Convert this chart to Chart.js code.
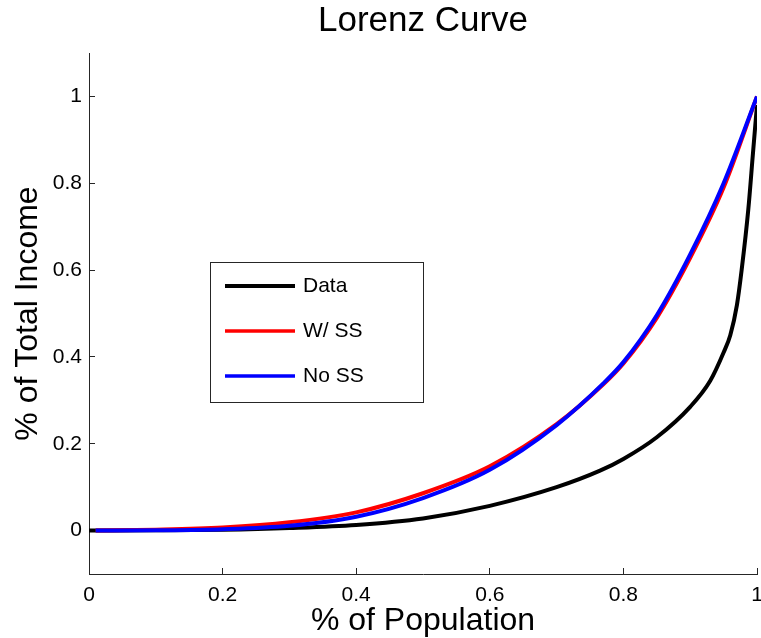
<!DOCTYPE html>
<html>
<head>
<meta charset="utf-8">
<script src="https://cdn.jsdelivr.net/npm/chart.js@4"></script>
<style>
  html, body { margin: 0; padding: 0; background: #fff; }
  #wrap { width: 761px; height: 638px; }
</style>
</head>
<body>
<div id="wrap"><canvas id="chart" width="761" height="638"></canvas></div>
<script>
// ── Data ──
const dataX = [0, 0.1, 0.2, 0.3, 0.4, 0.5, 0.6, 0.7, 0.765, 0.8, 0.85, 0.9, 0.93, 0.95, 0.96, 0.97, 0.977, 0.987, 0.994, 1];
const dataY = [0, 0.0005, 0.002, 0.006, 0.013, 0.028, 0.057, 0.1, 0.138, 0.165, 0.215, 0.285, 0.345, 0.41, 0.45, 0.52, 0.6, 0.74, 0.87, 0.98];

const ssX = [0.01, 0.1, 0.2, 0.3, 0.4, 0.5, 0.6, 0.7, 0.77, 0.8, 0.85, 0.9, 0.95, 1];
const withSSY = [0, 0.002, 0.007, 0.019, 0.042, 0.086, 0.148, 0.245, 0.337, 0.385, 0.49, 0.628, 0.79, 1];
const noSSY   = [0, 0.0005, 0.003, 0.011, 0.032, 0.075, 0.14, 0.243, 0.339, 0.388, 0.496, 0.636, 0.8, 1];

const xTicks = [0, 0.2, 0.4, 0.6, 0.8, 1];
const yTicks = [0, 0.2, 0.4, 0.6, 0.8, 1];

const FONT = 'Liberation Sans, Arial, Helvetica, sans-serif';
const AXIS = '#262626';

function pts(xs, ys) { return xs.map((x, i) => ({ x, y: ys[i] })); }

// ── Legend box inside the axes ──
const boxLegend = {
  id: 'boxLegend',
  afterDraw(chart) {
    const ctx = chart.ctx;
    const L = 210, T = 262, W = 213, H = 140;
    ctx.save();
    ctx.fillStyle = '#fff';
    ctx.fillRect(L, T, W, H);
    ctx.strokeStyle = AXIS;
    ctx.lineWidth = 1;
    ctx.strokeRect(L + 0.5, T + 0.5, W, H);
    ctx.font = '21px ' + FONT;
    ctx.textBaseline = 'middle';
    chart.data.datasets.forEach((ds, i) => {
      const y = T + 24 + i * 45;
      ctx.strokeStyle = ds.borderColor;
      ctx.lineWidth = i === 0 ? 4 : 3.5;
      ctx.beginPath();
      ctx.moveTo(225, y);
      ctx.lineTo(295, y);
      ctx.stroke();
      ctx.fillStyle = '#000';
      ctx.fillText(ds.label, 303, y);
    });
    ctx.restore();
  }
};

new Chart(document.getElementById('chart'), {
  type: 'scatter',
  data: {
    datasets: [
      { label: 'Data',   data: pts(dataX, dataY),  borderColor: '#000000', order: 2 },
      { label: 'W/ SS',  data: pts(ssX, withSSY),  borderColor: '#ff0000', order: 1 },
      { label: 'No SS',  data: pts(ssX, noSSY),    borderColor: '#0000ff', order: 0 }
    ].map(d => Object.assign(d, { showLine: true, pointRadius: 0, borderWidth: 4, cubicInterpolationMode: 'monotone', fill: false }))
  },
  options: {
    responsive: false,
    animation: false,
    layout: { padding: 0 },
    plugins: {
      legend: { display: false },
      tooltip: { enabled: false },
      title: {
        display: true,
        fullSize: false,
        text: 'Lorenz Curve',
        color: '#000',
        font: { family: FONT, size: 35, weight: 'normal' },
        padding: { top: 0, bottom: 11 }
      }
    },
    scales: {
      x: {
        type: 'linear',
        min: 0, max: 1,
        afterBuildTicks: s => { s.ticks = xTicks.map(v => ({ value: v })); },
        afterFit: s => { s.height = 64; s.paddingRight = 4; s.paddingLeft = 0; },
        ticks: { color: '#000', font: { family: FONT, size: 21 }, padding: 15, maxRotation: 0, callback: v => String(v) },
        grid: { drawOnChartArea: false, drawTicks: true, tickLength: -6, color: AXIS },
        border: { display: true, color: AXIS, width: 1 },
        title: { display: true, text: '% of Population', color: '#000', font: { family: FONT, size: 32 }, padding: { top: 0, bottom: -2 } }
      },
      y: {
        type: 'linear',
        min: -0.1, max: 1.1,
        afterBuildTicks: s => { s.ticks = yTicks.map(v => ({ value: v })); },
        afterFit: s => { s.width = 89; },
        ticks: { color: '#000', font: { family: FONT, size: 21 }, padding: 13, callback: v => String(v) },
        grid: { drawOnChartArea: false, drawTicks: true, tickLength: -6, color: AXIS },
        border: { display: true, color: AXIS, width: 1 },
        title: { display: true, text: '% of Total Income', color: '#000', font: { family: FONT, size: 32 }, padding: { top: 9, bottom: 0 } }
      }
    }
  },
  plugins: [boxLegend]
});
</script>
</body>
</html>
